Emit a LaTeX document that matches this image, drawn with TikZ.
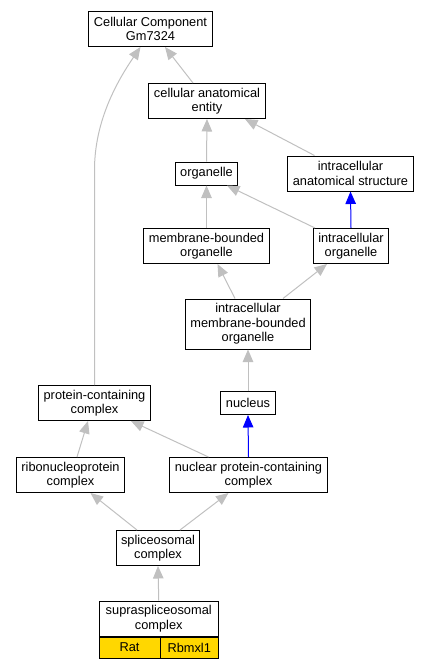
\documentclass[tikz,border=0pt]{standalone}
\usepackage{fontspec}
\setmainfont{Liberation Sans}
\usetikzlibrary{arrows.meta}
\definecolor{edgegray}{RGB}{192,192,192}
\definecolor{cellgold}{RGB}{255,215,0}

\begin{document}
\begin{tikzpicture}[
    x=1pt, y=-1pt,
    >={Triangle[length=12.5pt,width=10.5pt]},
    term/.style={
        draw=black,
        line width=1pt,
        fill=white,
        align=center,
        inner xsep=5pt,
        inner ysep=2pt,
        font=\fontsize{12.8}{14.6}\selectfont
    },
    oneline/.style={term, minimum height=23pt},
    twoline/.style={term, minimum height=35pt},
    threeline/.style={term, minimum height=50pt},
    geneinfo/.style={term, fill=cellgold, minimum height=21pt, inner xsep=0pt},
    isa/.style={->, draw=edgegray, line width=1pt},
    partof/.style={->, draw=blue, line width=1pt}
]
\useasboundingbox (0,0) rectangle (431,669);

% terms
\node[twoline] (cc) at (150.5,29) {Cellular Component\\Gm7324};
\node[twoline] (ae) at (207,101) {cellular anatomical\\entity};
\node[oneline] (org) at (206.5,173.5) {organelle};
\node[twoline] (ias) at (350.5,173.5) {intracellular\\anatomical structure};
\node[twoline] (mbo) at (206.5,246) {membrane-bounded\\organelle};
\node[twoline] (io) at (351,246) {intracellular\\organelle};
\node[threeline] (icmbo) at (248,324) {intracellular\\membrane-bounded\\organelle};
\node[oneline] (nuc) at (248,403) {nucleus};
\node[twoline] (pcc) at (94.5,403) {protein-containing\\complex};
\node[twoline] (rnp) at (70.5,475) {ribonucleoprotein\\complex};
\node[twoline] (npcc) at (248.5,475) {nuclear protein-containing\\complex};
\node[twoline] (sc) at (158,548) {spliceosomal\\complex};
\node[twoline, minimum width=119.5pt] (ss) at (158.75,618.5) {supraspliceosomal\\complex};
% gene row under the last term
\node[geneinfo, minimum width=61pt, anchor=north west] (rat) at (ss.south west) {Rat};
\node[geneinfo, minimum width=58.5pt, anchor=north east] (gene) at (ss.south east) {Rbmxl1};

% is_a edges
\coordinate (bend) at (94.5,170);
\draw[isa] (pcc.north) -- (bend) .. controls (94.5,120) and (118,80) .. ([xshift=-10pt]cc.south);
\draw[isa] ([xshift=-14pt]ae.north) -- ([xshift=14.5pt]cc.south);
\draw[isa] (org.north) -- (ae.south);
\draw[isa] ([xshift=-36pt]ias.north) -- ([xshift=38pt]ae.south);
\draw[isa] (mbo.north) -- (org.south);
\draw[isa] ([xshift=-36pt]io.north) -- ([xshift=20.5pt]org.south);
\draw[isa] ([xshift=-13pt]icmbo.north) -- ([xshift=11pt]mbo.south);
\draw[isa] ([xshift=35pt]icmbo.north) -- ([xshift=-24pt]io.south);
\draw[isa] (nuc.north) -- (icmbo.south);
\draw[isa] ([xshift=-40pt]npcc.north) -- ([xshift=36.5pt]pcc.south);
\draw[isa] ([xshift=6.5pt]rnp.north) -- ([xshift=-6.5pt]pcc.south);
\draw[isa] ([xshift=-21pt]sc.north) -- ([xshift=20pt]rnp.south);
\draw[isa] ([xshift=22pt]sc.north) -- ([xshift=-20pt]npcc.south);
\draw[isa] (ss.north) -- (sc.south);

% part_of edges
\draw[partof] (io.north) -- (ias.south);
\draw[partof] (npcc.north) -- (nuc.south);
\end{tikzpicture}
\end{document}
